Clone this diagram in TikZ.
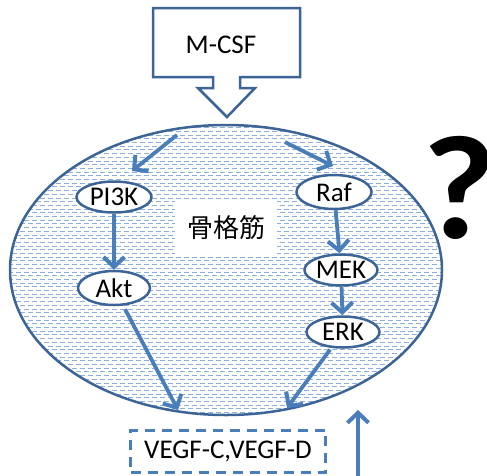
\documentclass[tikz,border=0pt]{standalone}
\usepackage{fontspec}
\setmainfont{Carlito}
\newfontfamily\cjk{Noto Sans CJK JP}
\usetikzlibrary{shapes.geometric,arrows.meta}
\definecolor{edgeblue}{RGB}{60,100,150}
\definecolor{arrowblue}{RGB}{74,126,187}
\definecolor{patblue}{RGB}{140,176,222}
\begin{document}
\begin{tikzpicture}[x=1pt,y=-1pt,
  flow/.style={draw=arrowblue, line width=3.8pt, -{Straight Barb[length=10pt,width=21pt,line width=4pt]}},
  kinase/.style={ellipse, draw=edgeblue, line width=2.5pt, fill=white, inner sep=0pt,
    font=\fontsize{27}{30}\selectfont},
  lbl/.style={font=\fontsize{27}{30}\selectfont, inner sep=0pt}]
\useasboundingbox (0,0) rectangle (487,475);
% muscle cell pattern
\begin{scope}
\clip (226,270) ellipse [x radius=216, y radius=145];
\foreach \i in {0,...,80} {
  \pgfmathsetmacro\yy{124+3.7*\i}
  \pgfmathsetmacro\ph{mod(\i,2)*4}
  \draw[patblue, line width=0.85pt, dash pattern=on 5pt off 3pt, dash phase=\ph pt] (0,\yy) -- (487,\yy);
}
\end{scope}
\node[ellipse, draw=edgeblue, line width=2.5pt, minimum width=432pt, minimum height=290pt, inner sep=0pt] (muscle) at (226,270) {};
\node[fill=white, minimum width=102pt, minimum height=55pt, inner sep=0pt, font=\cjk\fontsize{26}{30}\selectfont] (sk) at (226,227.5) {骨格筋};
% M-CSF callout
\draw[edgeblue, line width=2.5pt, fill=white, line join=miter]
  (153,8) -- (300,8) -- (300,77) -- (240,77) -- (240,88) -- (255,88) -- (227,117)
  -- (198,88) -- (213,88) -- (213,77) -- (153,77) -- cycle;
\node[lbl] (mcsf) at (221,45) {M-CSF};
% kinases
\node[kinase, minimum width=75pt, minimum height=31pt] (pi3k) at (114,197) {PI3K};
\node[kinase, minimum width=72pt, minimum height=34pt] (akt) at (114,288) {Akt};
\node[kinase, minimum width=75pt, minimum height=34pt] (raf) at (334,192) {Raf};
\node[kinase, minimum width=73pt, minimum height=31pt] (mek) at (341,270) {MEK};
\node[kinase, minimum width=73pt, minimum height=31pt] (erk) at (343,332) {ERK};
% VEGF
\node[draw=arrowblue, line width=3pt, dash pattern=on 10pt off 7pt, minimum width=195pt, minimum height=42pt, lbl] (vegf) at (228,451) {VEGF-C,VEGF-D};
% question mark
\node[font=\bfseries\fontsize{148}{148}\selectfont, inner sep=0pt, anchor=base] (q) at (460,238) {\scalebox{1.08}[1]{?}};
% coordinates
\coordinate (s1) at (177,135);
\coordinate (e1) at (132,171);
\coordinate (s2) at (285,142);
\coordinate (e2) at (333,166);
\coordinate (e3) at (178,410);
\coordinate (e4) at (287,408);
\coordinate (s5) at (358,476);
\coordinate (e5) at (358,410);
% arrows
\draw[flow] (s1) -- (e1);
\draw[flow] (s2) -- (e2);
\draw[flow] (pi3k) -- (akt);
\draw[flow] (raf) -- (mek);
\draw[flow] (mek) -- (erk);
\draw[flow, shorten <=4pt] (akt) -- (e3);
\draw[flow, shorten <=2pt] (erk) -- (e4);
\draw[flow] (s5) -- (e5);
\end{tikzpicture}
\end{document}
